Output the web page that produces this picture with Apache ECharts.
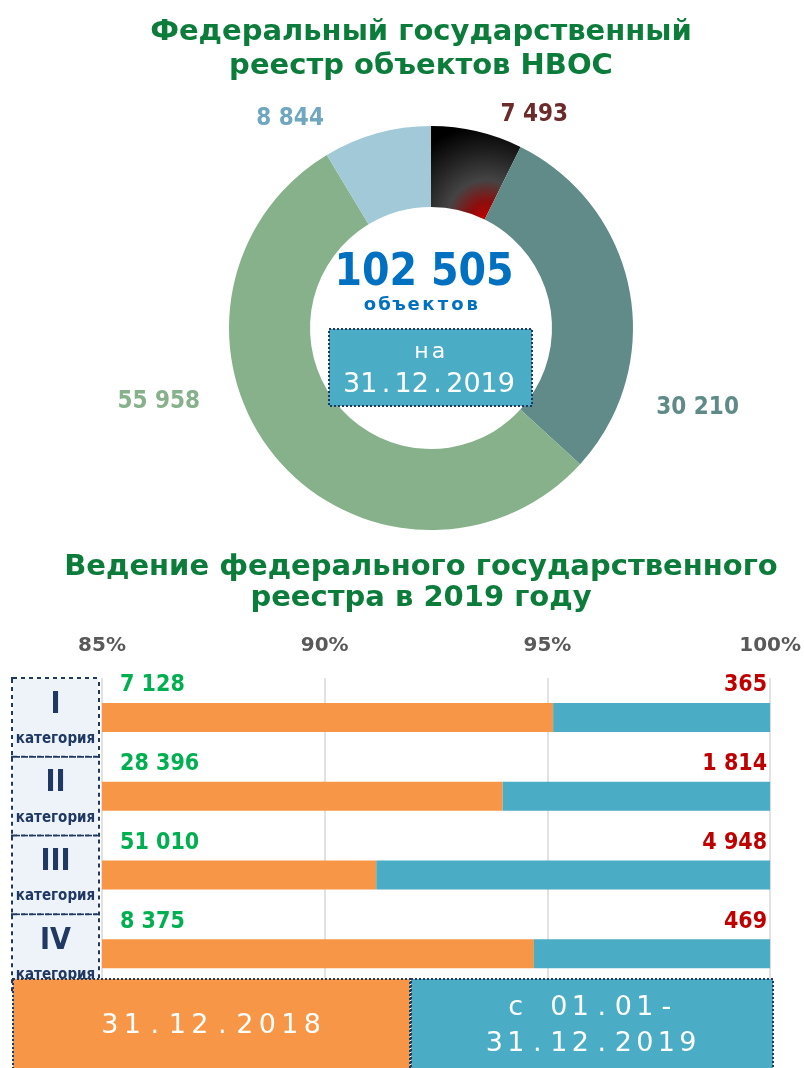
<!DOCTYPE html>
<html>
<head>
<meta charset="utf-8">
<script src="https://cdn.jsdelivr.net/npm/echarts@6/dist/echarts.min.js"></script>
<style>
  html, body { margin: 0; padding: 0; background: #fff; }
  #chart { width: 804px; height: 1068px; }
</style>
</head>
<body>
<div id="chart"></div>
<script>
// data
const categories = ['I', 'II', 'III', 'IV'];
const registered2018 = [7128, 28396, 51010, 8375];
const added2019 = [365, 1814, 4948, 469];
const donutValues = [7493, 30210, 55958, 8844];
const seriesNames = ['31.12.2018', 'с 01.01-\n31.12.2019'];
const pctTicks = { min: 85, max: 100, step: 5 };

const NARROW = "'Liberation Sans Narrow', 'DejaVu Sans', sans-serif";
const NARROW_BOLD = 'bold condensed';
const WIDE = "'DejaVu Sans', sans-serif";
const NAVY = '#1f3864';
const ORANGE = '#f79646';
const BLUE = '#4bacc6';

const fmt = (v) => String(v).replace(/\B(?=(\d{3})+(?!\d))/g, ' ');
const share = (part, i) => part / (registered2018[i] + added2019[i]) * 100;
// one rich token per character, to mimic the wide letter spacing
const spaced = (str) => str.split('\n')
  .map((line) => line.split('').map((ch) => '{s|' + (ch === ' ' ? '\u00a0' : ch) + '}').join(''))
  .join('\n');

const oldPct = registered2018.map((v, i) => share(v, i));
const newPct = added2019.map((v, i) => share(v, i));
const total = donutValues.reduce((a, b) => a + b, 0);

const sliceColors = [
  {
    type: 'radial', x: 0.62, y: 1.0, r: 1.05,
    colorStops: [
      { offset: 0, color: '#c80000' },
      { offset: 0.18, color: '#8e0c0c' },
      { offset: 0.42, color: '#444444' },
      { offset: 0.7, color: '#222222' },
      { offset: 1, color: '#000000' }
    ]
  },
  '#608b88', '#86b18b', '#a2c9d7'
];
const labelColors = ['#6b2b2b', '#5f8a87', '#86b18b', '#6fa7c0'];
const labelNudge = [[0, -2], [-8, 120], [-43, -64], [-29, 0]];

const chart = echarts.init(document.getElementById('chart'));

const option = {
  backgroundColor: '#ffffff',
  animation: false,
  title: [
    {
      text: 'Федеральный государственный\nреестр объектов НВОС',
      left: 421, top: 15, textAlign: 'center', padding: 0,
      textStyle: { fontFamily: WIDE, fontSize: 29, fontWeight: 'bold', color: '#0b7c3a', lineHeight: 34 }
    },
    {
      text: 'Ведение федерального государственного\nреестра в 2019 году',
      left: 421, top: 552, textAlign: 'center', padding: 0,
      textStyle: { fontFamily: WIDE, fontSize: 29, fontWeight: 'bold', color: '#0b7c3a', lineHeight: 31 }
    }
  ],
  grid: { left: 102, right: 29, top: 678, bottom: 75, containLabel: false },
  xAxis: {
    type: 'value', position: 'top',
    min: pctTicks.min, max: pctTicks.max, interval: pctTicks.step,
    axisLine: { show: false }, axisTick: { show: false },
    splitLine: { show: true, lineStyle: { color: '#d9d9d9', width: 1.5 } },
    axisLabel: {
      formatter: '{value}%', margin: 22,
      fontFamily: WIDE, fontSize: 20, fontWeight: 'bold', color: '#595959'
    }
  },
  yAxis: {
    type: 'category', inverse: true, data: categories,
    axisLine: { show: false }, axisTick: { show: false },
    axisLabel: {
      margin: 4, interval: 0, hideOverlap: false,
      formatter: (v) => '{n|' + v + '}\n{c|категория}',
      backgroundColor: '#eef3fa',
      borderColor: NAVY, borderWidth: 2, borderType: 'dotted',
      padding: [4, 2, 5, 2],
      rich: {
        n: { fontFamily: NARROW, fontSize: 30, fontWeight: NARROW_BOLD, color: NAVY, width: 81, align: 'center', lineHeight: 44 },
        c: { fontFamily: NARROW, fontSize: 15, fontWeight: NARROW_BOLD, color: NAVY, width: 81, align: 'center', lineHeight: 24 }
      }
    }
  },
  series: [
    {
      type: 'pie',
      center: [431, 328], radius: [121, 202],
      startAngle: 90, clockwise: true,
      label: {
        show: true, position: 'outside',
        formatter: (p) => fmt(p.value),
        fontFamily: NARROW, fontSize: 24, fontWeight: NARROW_BOLD
      },
      labelLine: { show: false, length: 15, length2: 15 },
      emphasis: { disabled: true },
      data: donutValues.map((v, i) => ({
        value: v,
        name: categories[i],
        itemStyle: { color: sliceColors[i] },
        label: { color: labelColors[i], offset: labelNudge[i] }
      }))
    },
    {
      name: seriesNames[0], type: 'bar', stack: 'share', barWidth: 29,
      itemStyle: { color: ORANGE },
      label: {
        show: true, position: [18, -6], align: 'left', verticalAlign: 'bottom',
        formatter: (p) => fmt(registered2018[p.dataIndex]),
        fontFamily: NARROW, fontSize: 23, fontWeight: NARROW_BOLD, color: '#00b050'
      },
      data: oldPct
    },
    {
      name: seriesNames[1], type: 'bar', stack: 'share', barWidth: 29,
      itemStyle: { color: BLUE },
      label: {
        show: true, position: ['100%', -6], offset: [-3, 0], align: 'right', verticalAlign: 'bottom',
        formatter: (p) => fmt(added2019[p.dataIndex]),
        fontFamily: NARROW, fontSize: 23, fontWeight: NARROW_BOLD, color: '#c00000'
      },
      data: newPct
    }
  ],
  graphic: [
    {
      type: 'text', z: 10,
      style: {
        text: fmt(total), x: 424, y: 274, align: 'center', verticalAlign: 'middle',
        font: NARROW_BOLD + ' 44px ' + NARROW, fill: '#0070c0'
      }
    },
    {
      type: 'text', z: 10,
      style: {
        text: spaced('объектов'), x: 421, y: 305, align: 'center', verticalAlign: 'middle',
        rich: { s: { font: 'bold 18px ' + WIDE, fill: '#0070c0', width: 14.6, align: 'center' } }
      }
    },
    {
      type: 'rect', z: 10,
      shape: { x: 329, y: 329, width: 203, height: 77 },
      style: { fill: BLUE, stroke: NAVY, lineWidth: 2, lineDash: [2, 2] }
    },
    {
      type: 'text', z: 11,
      style: {
        text: spaced('на'), x: 430, y: 352, align: 'center', verticalAlign: 'middle',
        rich: { s: { font: '22px ' + WIDE, fill: '#ffffff', width: 17, align: 'center' } }
      }
    },
    {
      type: 'text', z: 11,
      style: {
        text: spaced('31.12.2019'), x: 429, y: 385, align: 'center', verticalAlign: 'middle',
        rich: { s: { font: '27px ' + WIDE, fill: '#ffffff', width: 17.2, align: 'center' } }
      }
    },
    {
      type: 'rect', z: 10,
      shape: { x: 13, y: 979, width: 397, height: 100 },
      style: { fill: ORANGE, stroke: NAVY, lineWidth: 2, lineDash: [2, 2] }
    },
    {
      type: 'rect', z: 10,
      shape: { x: 411, y: 979, width: 362, height: 100 },
      style: { fill: BLUE, stroke: NAVY, lineWidth: 2, lineDash: [2, 2] }
    },
    {
      type: 'text', z: 11,
      style: {
        text: spaced(seriesNames[0]), x: 211, y: 1026, align: 'center', verticalAlign: 'middle',
        rich: { s: { font: '27px ' + WIDE, fill: '#ffffff', width: 22.5, align: 'center' } }
      }
    },
    {
      type: 'text', z: 11,
      style: {
        text: spaced(seriesNames[1]), x: 591, y: 1026, align: 'center', verticalAlign: 'middle',
        rich: { s: { font: '27px ' + WIDE, fill: '#ffffff', width: 21.5, align: 'center', lineHeight: 36 } }
      }
    }
  ]
};

chart.setOption(option);
</script>
</body>
</html>
